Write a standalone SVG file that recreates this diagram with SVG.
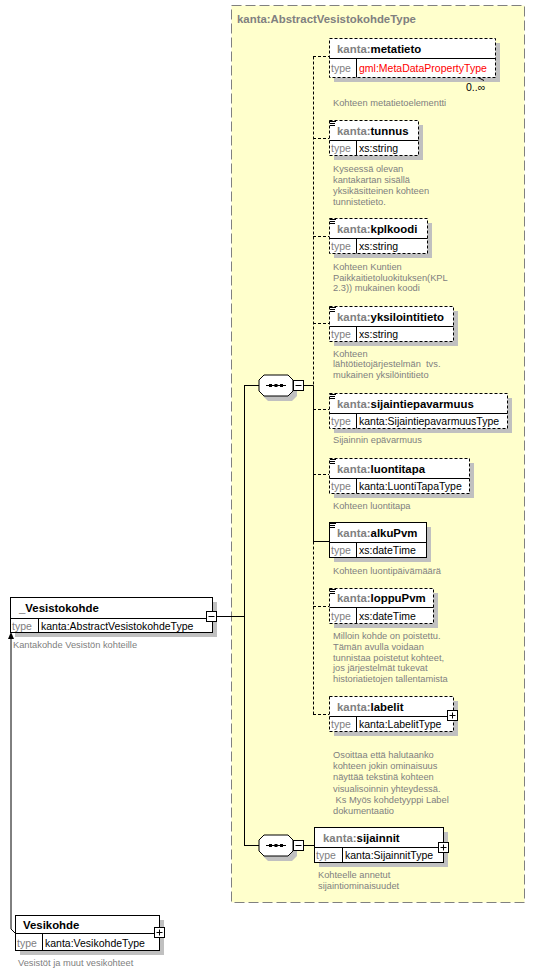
<svg xmlns="http://www.w3.org/2000/svg" width="535" height="973" viewBox="0 0 535 973">
<style>
text{font-family:"Liberation Sans",Arial,sans-serif}
.nm{font-size:11.4px;font-weight:bold;fill:#000}
.pf{fill:#808080}
.ty{font-size:10.5px;fill:#808080}
.tv{font-size:10.5px;fill:#000}
.red{fill:#ff0000}
.d{font-size:9.3px;fill:#808080;white-space:pre}
.bx{fill:#fff;stroke:#000;stroke-width:1}
.dsh{stroke-dasharray:3,2}
.sh{fill:#c0c0c0}
.ln{stroke:#000;stroke-width:1;fill:none}
.ic{stroke:#000;stroke-width:1}
</style>
<defs>
<g id="seq">
<polygon points="5,0 29,0 34,5 34,16 29,21 5,21 0,16 0,5" transform="translate(4,5)" class="sh"/>
<polygon points="5,0 29,0 34,5 34,16 29,21 5,21 0,16 0,5" fill="#fff" stroke="#000"/>
<line x1="7" y1="10.5" x2="27" y2="10.5" stroke="#000"/>
<rect x="10" y="9" width="3" height="3" fill="#000"/>
<rect x="15.5" y="9" width="3" height="3" fill="#000"/>
<rect x="21" y="9" width="3" height="3" fill="#000"/>
<rect x="34.5" y="5.5" width="10" height="10" fill="#fff" stroke="#000"/>
<line x1="36.5" y1="10.5" x2="42.5" y2="10.5" stroke="#000"/>
</g>
<g id="plus">
<rect x="-5" y="-5" width="10" height="10" fill="#fff" stroke="#000"/>
<line x1="-3" y1="0" x2="3" y2="0" stroke="#000"/>
<line x1="0" y1="-3" x2="0" y2="3" stroke="#000"/>
</g>
<g id="doc">
<line x1="0" y1="0.5" x2="6" y2="0.5" class="ic"/>
<line x1="0" y1="2.5" x2="5" y2="2.5" class="ic"/>
<line x1="0" y1="4.5" x2="5" y2="4.5" class="ic"/>
</g>
</defs>

<g id="frame">
<rect x="231.5" y="5.5" width="293" height="897" fill="#ffffcc" stroke="#808080" stroke-dasharray="10,4"/>
<text x="237" y="23" class="nm pf">kanta:AbstractVesistokohdeType</text>
</g>

<g id="connectors">
<line x1="217" y1="616.5" x2="244.5" y2="616.5" class="ln"/>
<line x1="244.5" y1="385.5" x2="244.5" y2="845.5" class="ln"/>
<line x1="244" y1="385.5" x2="259" y2="385.5" class="ln"/>
<line x1="244" y1="845.5" x2="259" y2="845.5" class="ln"/>
<line x1="303" y1="385.5" x2="313.5" y2="385.5" class="ln"/>
<line x1="303" y1="845.5" x2="314" y2="845.5" class="ln"/>
<line x1="313.5" y1="56.5" x2="313.5" y2="385.5" class="ln dsh"/>
<line x1="313.5" y1="385.5" x2="313.5" y2="541.5" class="ln"/>
<line x1="313.5" y1="541.5" x2="313.5" y2="714.5" class="ln dsh"/>
<line x1="313" y1="56.5" x2="329" y2="56.5" class="ln dsh"/>
<line x1="313" y1="138.5" x2="329" y2="138.5" class="ln dsh"/>
<line x1="313" y1="236.5" x2="329" y2="236.5" class="ln dsh"/>
<line x1="313" y1="323.5" x2="329" y2="323.5" class="ln dsh"/>
<line x1="313" y1="409.5" x2="329" y2="409.5" class="ln dsh"/>
<line x1="313" y1="474.5" x2="329" y2="474.5" class="ln dsh"/>
<line x1="313" y1="541.5" x2="329" y2="541.5" class="ln"/>
<line x1="313" y1="606.5" x2="329" y2="606.5" class="ln dsh"/>
<line x1="313" y1="714.5" x2="329" y2="714.5" class="ln dsh"/>
<polyline points="15,933 11,929 11,639" class="ln"/>
<polygon points="11,632 8,639 14,639" fill="#000"/>
</g>

<g id="seq1"><use href="#seq" x="259" y="375"/></g>
<g id="seq2"><use href="#seq" x="259" y="835"/></g>

<g id="metatieto">
<rect x="334" y="43" width="166" height="39" class="sh"/>
<rect x="329.5" y="38.5" width="166" height="39" class="bx dsh"/>
<line x1="329.5" y1="58.5" x2="495.5" y2="58.5" class="ln"/>
<line x1="356.5" y1="58.5" x2="356.5" y2="77.5" class="ln"/>
<text x="337" y="52.5" class="nm"><tspan class="pf">kanta:</tspan>metatieto</text>
<text x="331" y="71.5" class="ty">type</text>
<text x="359" y="71.5" class="tv red">gml:MetaDataPropertyType</text>
<line x1="478" y1="77.5" x2="484" y2="80.5" class="ln"/>
<text x="466" y="91" class="tv">0..∞</text>
<text x="333" y="105.5" class="d">Kohteen metatietoelementti</text>
</g>

<g id="tunnus">
<rect x="334" y="125" width="89" height="35" class="sh"/>
<rect x="329.5" y="120.5" width="89" height="35" class="bx dsh"/>
<line x1="329.5" y1="140.5" x2="418.5" y2="140.5" class="ln"/>
<line x1="356.5" y1="140.5" x2="356.5" y2="155.5" class="ln"/>
<use href="#doc" x="330" y="121"/>
<text x="337" y="134.5" class="nm"><tspan class="pf">kanta:</tspan>tunnus</text>
<text x="331" y="152" class="ty">type</text>
<text x="359" y="152" class="tv">xs:string</text>
<text x="333" y="172" class="d">Kyseessä olevan</text>
<text x="333" y="183" class="d">kantakartan sisällä</text>
<text x="333" y="194" class="d">yksikäsitteinen kohteen</text>
<text x="333" y="205" class="d">tunnistetieto.</text>
</g>

<g id="kplkoodi">
<rect x="334" y="223" width="98" height="35" class="sh"/>
<rect x="329.5" y="218.5" width="98" height="35" class="bx dsh"/>
<line x1="329.5" y1="238.5" x2="427.5" y2="238.5" class="ln"/>
<line x1="356.5" y1="238.5" x2="356.5" y2="253.5" class="ln"/>
<use href="#doc" x="330" y="219"/>
<text x="337" y="232.5" class="nm"><tspan class="pf">kanta:</tspan>kplkoodi</text>
<text x="331" y="250" class="ty">type</text>
<text x="359" y="250" class="tv">xs:string</text>
<text x="333" y="269.5" class="d">Kohteen Kuntien</text>
<text x="333" y="280.5" class="d">Paikkaitietoluokituksen(KPL</text>
<text x="333" y="291" class="d">2.3)) mukainen koodi</text>
</g>

<g id="yksilointitieto">
<rect x="334" y="311" width="124" height="35" class="sh"/>
<rect x="329.5" y="306.5" width="124" height="35" class="bx dsh"/>
<line x1="329.5" y1="326.5" x2="453.5" y2="326.5" class="ln"/>
<line x1="356.5" y1="326.5" x2="356.5" y2="341.5" class="ln"/>
<use href="#doc" x="330" y="307"/>
<text x="337" y="320.5" class="nm"><tspan class="pf">kanta:</tspan>yksilointitieto</text>
<text x="331" y="338" class="ty">type</text>
<text x="359" y="338" class="tv">xs:string</text>
<text x="333" y="356.5" class="d">Kohteen</text>
<text x="333" y="367" class="d">lähtötietojärjestelmän  tvs.</text>
<text x="333" y="378" class="d">mukainen yksilöintitieto</text>
</g>

<g id="sijaintiepavarmuus">
<rect x="334" y="398" width="178" height="35" class="sh"/>
<rect x="329.5" y="393.5" width="178" height="35" class="bx dsh"/>
<line x1="329.5" y1="413.5" x2="507.5" y2="413.5" class="ln"/>
<line x1="356.5" y1="413.5" x2="356.5" y2="428.5" class="ln"/>
<use href="#doc" x="330" y="394"/>
<text x="337" y="407.5" class="nm"><tspan class="pf">kanta:</tspan>sijaintiepavarmuus</text>
<text x="331" y="425" class="ty">type</text>
<text x="359" y="425" class="tv">kanta:SijaintiepavarmuusType</text>
<text x="333" y="443" class="d">Sijainnin epävarmuus</text>
</g>

<g id="luontitapa">
<rect x="334" y="463" width="140" height="35" class="sh"/>
<rect x="329.5" y="458.5" width="140" height="35" class="bx dsh"/>
<line x1="329.5" y1="478.5" x2="469.5" y2="478.5" class="ln"/>
<line x1="356.5" y1="478.5" x2="356.5" y2="493.5" class="ln"/>
<use href="#doc" x="330" y="459"/>
<text x="337" y="472.5" class="nm"><tspan class="pf">kanta:</tspan>luontitapa</text>
<text x="331" y="490" class="ty">type</text>
<text x="359" y="490" class="tv">kanta:LuontiTapaType</text>
<text x="333" y="508.5" class="d">Kohteen luontitapa</text>
</g>

<g id="alkuPvm">
<rect x="334" y="527" width="97" height="35" class="sh"/>
<rect x="329.5" y="522.5" width="97" height="35" class="bx"/>
<line x1="329.5" y1="542.5" x2="426.5" y2="542.5" class="ln"/>
<line x1="356.5" y1="542.5" x2="356.5" y2="557.5" class="ln"/>
<use href="#doc" x="330" y="523"/>
<text x="337" y="536.5" class="nm"><tspan class="pf">kanta:</tspan>alkuPvm</text>
<text x="331" y="554" class="ty">type</text>
<text x="359" y="554" class="tv">xs:dateTime</text>
<text x="333" y="573.5" class="d">Kohteen luontipäivämäärä</text>
</g>

<g id="loppuPvm">
<rect x="334" y="593" width="104" height="35" class="sh"/>
<rect x="329.5" y="588.5" width="104" height="35" class="bx dsh"/>
<line x1="329.5" y1="607.5" x2="433.5" y2="607.5" class="ln"/>
<line x1="356.5" y1="607.5" x2="356.5" y2="623.5" class="ln"/>
<use href="#doc" x="330" y="589"/>
<text x="337" y="602" class="nm"><tspan class="pf">kanta:</tspan>loppuPvm</text>
<text x="331" y="619.5" class="ty">type</text>
<text x="359" y="619.5" class="tv">xs:dateTime</text>
<text x="333" y="639" class="d">Milloin kohde on poistettu.</text>
<text x="333" y="649.5" class="d">Tämän avulla voidaan</text>
<text x="333" y="660.5" class="d">tunnistaa poistetut kohteet,</text>
<text x="333" y="671" class="d">jos järjestelmät tukevat</text>
<text x="333" y="682" class="d">historiatietojen tallentamista</text>
</g>

<g id="labelit">
<rect x="334" y="701" width="124" height="35" class="sh"/>
<rect x="329.5" y="696.5" width="124" height="35" class="bx dsh"/>
<line x1="329.5" y1="716.5" x2="453.5" y2="716.5" class="ln"/>
<line x1="356.5" y1="716.5" x2="356.5" y2="731.5" class="ln"/>
<text x="337" y="710.5" class="nm"><tspan class="pf">kanta:</tspan>labelit</text>
<text x="331" y="728" class="ty">type</text>
<text x="359" y="728" class="tv">kanta:LabelitType</text>
<use href="#plus" x="452.5" y="715.5"/>
<text x="333" y="757.5" class="d">Osoittaa että halutaanko</text>
<text x="333" y="769" class="d">kohteen jokin ominaisuus</text>
<text x="333" y="780" class="d">näyttää tekstinä kohteen</text>
<text x="333" y="791.5" class="d">visualisoinnin yhteydessä.</text>
<text x="333" y="802.5" class="d"> Ks Myös kohdetyyppi Label</text>
<text x="333" y="813.5" class="d">dokumentaatio</text>
</g>

<g id="sijainnit">
<rect x="319" y="832" width="129" height="35" class="sh"/>
<rect x="314.5" y="827.5" width="129" height="35" class="bx"/>
<line x1="314.5" y1="847.5" x2="443.5" y2="847.5" class="ln"/>
<line x1="342.5" y1="847.5" x2="342.5" y2="862.5" class="ln"/>
<text x="323" y="841.5" class="nm"><tspan class="pf">kanta:</tspan>sijainnit</text>
<text x="316" y="859" class="ty">type</text>
<text x="345" y="859" class="tv">kanta:SijainnitType</text>
<use href="#plus" x="443.5" y="847.5"/>
<text x="318" y="878" class="d">Kohteelle annetut</text>
<text x="318" y="889" class="d">sijaintiominaisuudet</text>
</g>

<g id="vesistokohde">
<rect x="15" y="602" width="202" height="35" class="sh"/>
<rect x="10.5" y="597.5" width="202" height="35" class="bx"/>
<line x1="10.5" y1="618.5" x2="212.5" y2="618.5" class="ln"/>
<line x1="38.5" y1="618.5" x2="38.5" y2="632.5" class="ln"/>
<text x="19" y="611.5" class="nm">_Vesistokohde</text>
<text x="12" y="629.5" class="ty">type</text>
<text x="41" y="629.5" class="tv">kanta:AbstractVesistokohdeType</text>
<rect x="206.5" y="611.5" width="10" height="10" fill="#fff" stroke="#000"/>
<line x1="208.5" y1="616.5" x2="214.5" y2="616.5" stroke="#000"/>
<text x="13" y="647.5" class="d">Kantakohde Vesistön kohteille</text>
</g>

<g id="vesikohde">
<rect x="20" y="920" width="144" height="35" class="sh"/>
<rect x="15.5" y="915.5" width="144" height="35" class="bx"/>
<line x1="15.5" y1="933.5" x2="159.5" y2="933.5" class="ln"/>
<line x1="42.5" y1="933.5" x2="42.5" y2="950.5" class="ln"/>
<text x="23" y="928.5" class="nm">Vesikohde</text>
<text x="17" y="946.5" class="ty">type</text>
<text x="45" y="946.5" class="tv">kanta:VesikohdeType</text>
<use href="#plus" x="159.5" y="932.5"/>
<text x="18" y="965.5" class="d">Vesistöt ja muut vesikohteet</text>
</g>
</svg>
